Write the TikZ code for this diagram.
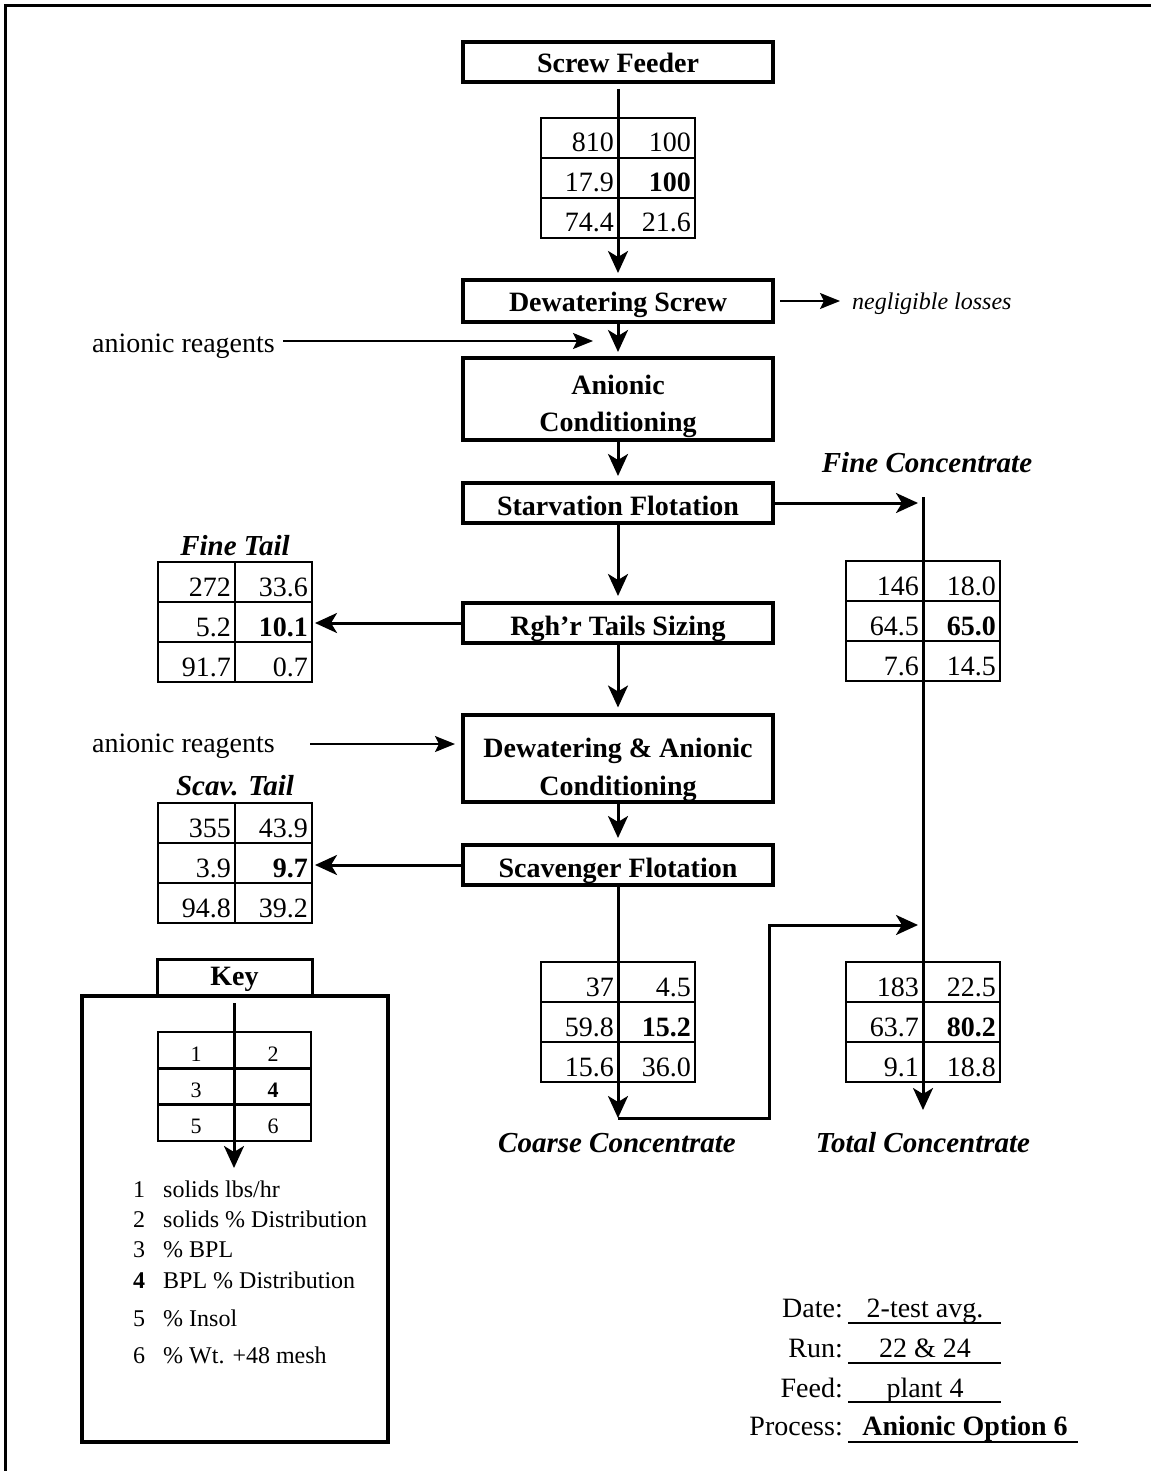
\documentclass[tikz,border=0pt]{standalone}
\usepackage{fontspec}
\setmainfont{Liberation Serif}
\usetikzlibrary{arrows.meta,calc}
\newcommand{\fsz}[1]{\fontsize{#1}{#1}\selectfont}
\newcommand{\dtab}[9]{%
  \node[tbl,anchor=north] (#1) at (#2,#3) {};
  \draw[tline] (#1.north) -- (#1.south);
  \draw[tline] ($(#1.north west)!1/3!(#1.south west)$) -- ($(#1.north east)!1/3!(#1.south east)$);
  \draw[tline] ($(#1.north west)!2/3!(#1.south west)$) -- ($(#1.north east)!2/3!(#1.south east)$);
  \node[num] (#1-a) at ($(#1.north)+(-4,34)$) {#4};
  \node[num] (#1-b) at ($(#1.north east)+(-4,34)$) {#5};
  \node[num] (#1-c) at ($(#1.north)+(-4,74)$) {#6};
  \node[num] (#1-d) at ($(#1.north east)+(-4,74)$) {\textbf{#7}};
  \node[num] (#1-e) at ($(#1.north)+(-4,114)$) {#8};
  \node[num] (#1-f) at ($(#1.north east)+(-4,114)$) {#9};
}
\tikzset{
  pbox/.style={draw, line width=4pt, minimum width=310pt, inner sep=0pt, outer sep=0pt},
  ptext/.style={anchor=base, inner sep=0pt, font=\fsz{28}\bfseries},
  tbl/.style={draw, line width=2.5pt, minimum width=154pt, minimum height=120pt, inner sep=0pt, outer sep=0pt},
  tline/.style={line width=2.5pt},
  num/.style={anchor=base east, inner sep=0pt, font=\fsz{28}},
  lab/.style={anchor=base, inner sep=0pt, font=\fsz{29}\bfseries\itshape},
  plain/.style={inner sep=0pt, font=\fsz{28}},
  flow/.style={line width=3pt, -{Stealth[length=22pt,width=20pt,inset=6pt]}},
  tarr/.style={line width=1.6pt, -{Stealth[length=20pt,width=16pt,inset=4pt]}},
  uline/.style={line width=2.5pt}
}
\begin{document}
\begin{tikzpicture}[x=1pt,y=-1pt]
\useasboundingbox (0,0) rectangle (1151,1471);
% frame
\draw[line width=3.5pt] (5.5,1471) -- (5.5,5.5) -- (1151,5.5);

% process boxes
\node[pbox, minimum height=40pt] (sf) at (618,62) {};
\node[ptext] (sf-t) at ($(sf.center)+(0,11)$) {Screw Feeder};
\node[pbox, minimum height=42pt] (ds) at (618,301) {};
\node[ptext] (ds-t) at ($(ds.center)+(0,10)$) {Dewatering Screw};
\node[pbox, minimum height=82pt] (ac) at (618,399) {};
\node[ptext] (ac-t1) at ($(ac.center)+(0,-5)$) {Anionic};
\node[ptext] (ac-t2) at ($(ac.center)+(0,32)$) {Conditioning};
\node[pbox, minimum height=40pt] (stf) at (618,503) {};
\node[ptext] (stf-t) at ($(stf.center)+(0,12)$) {Starvation Flotation};
\node[pbox, minimum height=40pt] (rts) at (618,623) {};
\node[ptext] (rts-t) at ($(rts.center)+(0,12)$) {Rgh'r Tails Sizing};
\node[pbox, minimum height=87pt] (dac) at (618,758) {};
\node[ptext] (dac-t1) at ($(dac.center)+(0,-1)$) {Dewatering \& Anionic};
\node[ptext] (dac-t2) at ($(dac.center)+(0,37)$) {Conditioning};
\node[pbox, minimum height=40pt] (scf) at (618,865) {};
\node[ptext] (scf-t) at ($(scf.center)+(0,12)$) {Scavenger Flotation};

% data tables
\dtab{tfeed}{618}{118}{810}{100}{17.9}{100}{74.4}{21.6}
\dtab{tftail}{235}{562}{272}{33.6}{5.2}{10.1}{91.7}{0.7}
\dtab{tfconc}{923}{561}{146}{18.0}{64.5}{65.0}{7.6}{14.5}
\dtab{tscav}{235}{803}{355}{43.9}{3.9}{9.7}{94.8}{39.2}
\dtab{tcoarse}{618}{962}{37}{4.5}{59.8}{15.2}{15.6}{36.0}
\dtab{ttotal}{923}{962}{183}{22.5}{63.7}{80.2}{9.1}{18.8}

% labels
\node[lab] (lfc) at (927,472) {Fine Concentrate};
\node[lab] (lft) at (235,555) {Fine Tail};
\node[lab] (lst) at (235,795) {Scav. Tail};
\node[lab] (lcc) at (617,1152) {Coarse Concentrate};
\node[lab] (ltc) at (923,1152) {Total Concentrate};

% main flow
\draw[flow] ([yshift=-7pt]sf.south) -- ([yshift=7pt]ds.north);
\draw[flow] (ds.south) -- ([yshift=6pt]ac.north);
\draw[flow] (ac.south) -- ([yshift=7pt]stf.north);
\draw[flow] (stf.south) -- ([yshift=7pt]rts.north);
\draw[flow] (rts.south) -- ([yshift=7pt]dac.north);
\draw[flow] (dac.south) -- ([yshift=7pt]scf.north);
\draw[flow] (rts.west) -- ([xshift=3pt]tftail.east |- rts.west);
\draw[flow] (scf.west) -- ([xshift=3pt]tscav.east |- scf.west);

\coordinate (fcin) at (918,503);
\draw[flow] (stf.east) -- (fcin);
\coordinate (fctop) at (923,497);
\coordinate (tcend) at (923,1110);
\draw[flow] (fctop) -- (tcend);
\coordinate (ccend) at (618,1118);
\draw[flow] (scf.south) -- (ccend);
\coordinate (cjoin) at (918,925);
\draw[flow] (ccend) -- (769,1118) -- (769,925) -- (cjoin);

% reagents and losses
\node[plain, anchor=base east] (ar1) at (275,352) {anionic reagents};
\coordinate (ar1s) at (283,341);
\coordinate (ar1e) at (593,341);
\draw[tarr] (ar1s) -- (ar1e);
\node[plain, anchor=base east] (ar2) at (275,752) {anionic reagents};
\coordinate (ar2s) at (310,744);
\coordinate (ar2e) at (455,744);
\draw[tarr] (ar2s) -- (ar2e);
\coordinate (nle) at (840,301);
\draw[tarr] ([xshift=7pt]ds.east) -- (nle);
\node[inner sep=0pt, anchor=base west, font=\fsz{24}\itshape] (nl) at (852,309) {negligible losses};

% key
\node[draw, line width=3pt, minimum width=155pt, minimum height=40pt, inner sep=0pt, outer sep=0pt,
  anchor=north, font=\fsz{28}\bfseries] (key) at (234.5,959) {Key};
\node[draw, line width=4pt, fill=white, minimum width=306pt, minimum height=446pt, inner sep=0pt,
  outer sep=0pt, anchor=north west] (keybox) at (82,996) {};
\node[draw, line width=2.5pt, minimum width=153pt, minimum height=109pt, anchor=north, inner sep=0pt,
  outer sep=0pt] (ktab) at (234.5,1032) {};
\draw[tline] ($(ktab.north west)!1/3!(ktab.south west)$) -- ($(ktab.north east)!1/3!(ktab.south east)$);
\draw[tline] ($(ktab.north west)!2/3!(ktab.south west)$) -- ($(ktab.north east)!2/3!(ktab.south east)$);
\coordinate (ks) at (234,1003);
\coordinate (ke) at (234,1168);
\draw[flow] (ks) -- (ke);
\begin{scope}[every node/.style={anchor=base, inner sep=0pt, font=\fsz{22}}]
\node (k1) at (196,1061) {1};
\node (k2) at (273,1061) {2};
\node (k3) at (196,1097) {3};
\node (k4) at (273,1097) {\textbf{4}};
\node (k5) at (196,1133) {5};
\node (k6) at (273,1133) {6};
\end{scope}
\begin{scope}[every node/.style={inner sep=0pt, font=\fsz{24}}]
\node[anchor=base] (n1) at (139,1197) {1};
\node[anchor=base west] (d1) at (163,1197) {solids lbs/hr};
\node[anchor=base] (n2) at (139,1227) {2};
\node[anchor=base west] (d2) at (163,1227) {solids \% Distribution};
\node[anchor=base] (n3) at (139,1257) {3};
\node[anchor=base west] (d3) at (163,1257) {\% BPL};
\node[anchor=base] (n4) at (139,1288) {\textbf{4}};
\node[anchor=base west] (d4) at (163,1288) {BPL \% Distribution};
\node[anchor=base] (n5) at (139,1326) {5};
\node[anchor=base west] (d5) at (163,1326) {\% Insol};
\node[anchor=base] (n6) at (139,1363) {6};
\node[anchor=base west] (d6) at (163,1363) {\% Wt. +48 mesh};
\end{scope}

% run info
\begin{scope}[every node/.style={inner sep=0pt, font=\fsz{28}}]
\node[anchor=base east] (ldate) at (843,1317) {Date:};
\node[anchor=base] (vdate) at (925,1317) {2-test avg.};
\node[anchor=base east] (lrun) at (843,1357) {Run:};
\node[anchor=base] (vrun) at (925,1357) {22 \& 24};
\node[anchor=base east] (lfeed) at (843,1397) {Feed:};
\node[anchor=base] (vfeed) at (925,1397) {plant 4};
\node[anchor=base east] (lproc) at (843,1435) {Process:};
\node[anchor=base] (vproc) at (965,1435) {\textbf{Anionic Option 6}};
\end{scope}
\draw[uline] (848,1323) -- (1001,1323);
\draw[uline] (848,1363) -- (1001,1363);
\draw[uline] (848,1402) -- (1001,1402);
\draw[uline] (848,1442) -- (1078,1442);
\end{tikzpicture}
\end{document}
